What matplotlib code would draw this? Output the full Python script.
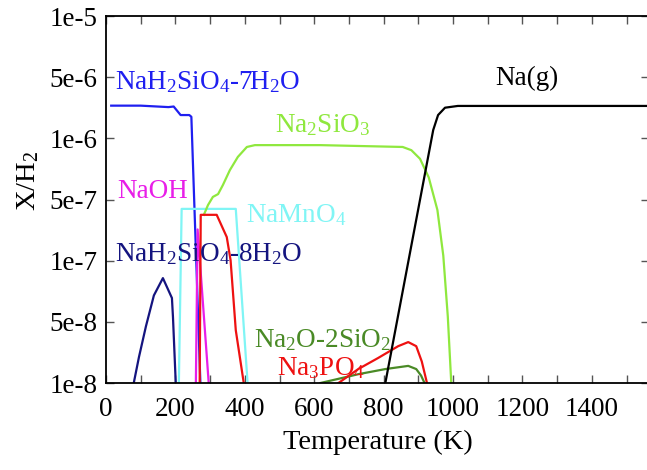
import numpy as np
import matplotlib
matplotlib.use('Agg')
from matplotlib import pyplot as plt

#Fonts (Times-like)
plt.rcParams['font.family'] = ['Liberation Serif', 'DejaVu Serif']
plt.rcParams['mathtext.fontset'] = 'custom'
plt.rcParams['mathtext.rm'] = 'Liberation Serif'
plt.rcParams['mathtext.it'] = 'Liberation Serif:italic'

#Axis ticks
Y_Ticks = [1e-8, 10**-7.5, 1e-7, 10**-6.5, 1e-6, 10**-5.5, 1e-5]
Y_Labels = ['1e-8', '5e-8', '1e-7', '5e-7', '1e-6', '5e-6', '1e-5']
X_Ticks = [0, 200, 400, 600, 800, 1000, 1200, 1400]

#NaH2SiO4-7H2O
T_7H2O = [15, 100, 180, 195, 215, 240, 246, 272]
V_7H2O = [1.85e-6, 1.85e-6, 1.8e-6, 1.82e-6, 1.55e-6, 1.55e-6, 1.5e-6, 1e-8]

#NaH2SiO4-8H2O
T_8H2O = [80, 95, 115, 138, 164, 190, 193, 201]
V_8H2O = [1e-8, 1.63e-8, 2.9e-8, 5.2e-8, 7.2e-8, 4.95e-8, 3.46e-8, 1e-8]

#NaOH
T_NaOH = [259, 264, 296]
V_NaOH = [1e-8, 1.8e-7, 1e-8]

#NaMnO4
T_NaMnO4 = [210, 218, 374, 408]
V_NaMnO4 = [1e-8, 2.65e-7, 2.65e-7, 1e-8]

#Na3PO4 (two branches)
T_PO4_a = [270, 273, 319, 348, 359, 374, 397]
V_PO4_a = [1e-8, 2.37e-7, 2.37e-7, 1.56e-7, 1.01e-7, 2.7e-8, 1e-8]
T_PO4_b = [670, 727, 784, 842, 871, 894, 910, 925]
V_PO4_b = [1e-8, 1.3e-8, 1.6e-8, 2.0e-8, 2.16e-8, 2.0e-8, 1.5e-8, 1e-8]

#Na2O-2SiO2
T_2SiO2 = [618, 727, 805, 871, 894, 908, 918]
V_2SiO2 = [1e-8, 1.18e-8, 1.3e-8, 1.38e-8, 1.3e-8, 1.15e-8, 1e-8]

#Na2SiO3
T_SiO3 = [282, 294, 308, 323, 337, 357, 380, 406, 429, 617, 855, 880, 905, 930, 955, 972, 985, 995]
V_SiO3 = [2.37e-7, 2.85e-7, 3.32e-7, 3.5e-7, 4.16e-7, 5.5e-7, 7.05e-7, 8.5e-7, 8.8e-7,
          8.8e-7, 8.5e-7, 8.0e-7, 6.8e-7, 4.8e-7, 2.6e-7, 1.1e-7, 3.5e-8, 1e-8]

#Na(g)
T_Nag = [805, 943, 957, 977, 1014, 1600]
V_Nag = [1e-8, 1.17e-6, 1.55e-6, 1.78e-6, 1.84e-6, 1.84e-6]

fig = plt.figure(figsize=(6.47, 4.70), dpi=100)
ax = fig.add_axes([106/647, 1-383/470, 543/647, 367/470])

LW = 1.6
ax.plot(T_7H2O, V_7H2O, color='#1f1ff0', lw=LW)
ax.plot(T_8H2O, V_8H2O, color='#14147f', lw=LW)
ax.plot(T_NaMnO4, V_NaMnO4, color='#80f5f5', lw=LW)
ax.plot(T_NaOH, V_NaOH, color='#e81ee8', lw=LW)
ax.plot(T_SiO3, V_SiO3, color='#8fe83e', lw=LW)
ax.plot(T_PO4_a, V_PO4_a, color='#ee1111', lw=LW)
ax.plot(T_2SiO2, V_2SiO2, color='#4a8a26', lw=LW)
ax.plot(T_PO4_b, V_PO4_b, color='#ee1111', lw=LW)
ax.plot(T_Nag, V_Nag, color='black', lw=LW)

#Labels
FS = 19.5
ax.text(115/647, 1-82/470, r'NaH$_2$SiO$_4$-7H$_2$O', color='#1f1ff0', fontsize=FS, va='center', transform=fig.transFigure)
ax.text(495/647, 1-78/470, 'Na(g)', color='black', fontsize=FS, va='center', transform=fig.transFigure)
ax.text(275/647, 1-125/470, r'Na$_2$SiO$_3$', color='#8fe83e', fontsize=FS, va='center', transform=fig.transFigure)
ax.text(117/647, 1-191/470, 'NaOH', color='#e81ee8', fontsize=FS, va='center', transform=fig.transFigure)
ax.text(246/647, 1-215/470, r'NaMnO$_4$', color='#80f5f5', fontsize=FS, va='center', transform=fig.transFigure)
ax.text(115/647, 1-254/470, r'NaH$_2$SiO$_4$-8H$_2$O', color='#14147f', fontsize=FS, va='center', transform=fig.transFigure)
ax.text(254/647, 1-340/470, r'Na$_2$O-2SiO$_2$', color='#4a8a26', fontsize=FS, va='center', transform=fig.transFigure)
ax.text(277/647, 1-368/470, r'Na$_3$PO$_4$', color='#ee1111', fontsize=FS, va='center', transform=fig.transFigure)

#Axes setup
ax.set_yscale('log')
ax.set_ylim(1e-8, 1e-5)
ax.set_xlim(0, 543/0.347)
ax.set_yticks(Y_Ticks)
ax.set_yticklabels(Y_Labels)
ax.yaxis.set_minor_locator(matplotlib.ticker.NullLocator())
ax.set_xticks(X_Ticks)
ax.xaxis.set_minor_locator(matplotlib.ticker.MultipleLocator(100))
ax.tick_params(which='both', direction='in', top=True, right=True, labelsize=FS, width=1, color='#555555')
ax.tick_params(which='major', length=6)
ax.tick_params(which='minor', length=6)
ax.tick_params(axis='y', pad=6)
ax.tick_params(axis='x', pad=10)
for s in ax.spines.values():
    s.set_linewidth(1.3)

ax.set_xlabel('Temperature (K)', fontsize=20.5, labelpad=6)
ax.set_ylabel(r'X/H$_2$', fontsize=20.5)
ax.yaxis.set_label_coords(-0.12, 0.55)

fig.savefig('out.png', dpi=100)
